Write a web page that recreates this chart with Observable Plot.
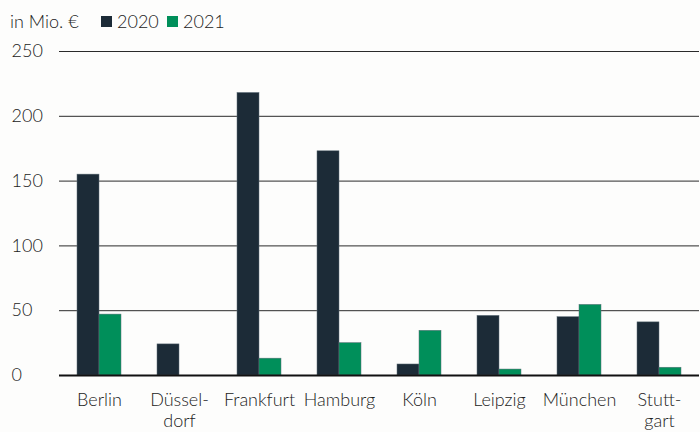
<!DOCTYPE html>
<html><head><meta charset="utf-8">
<script src="https://cdn.jsdelivr.net/npm/d3@7"></script>
<script src="https://cdn.jsdelivr.net/npm/@observablehq/plot@0.6"></script>
<style>
body{margin:0;background:#fdfdfc;font-family:Lato,sans-serif;font-weight:300;color:#222}
#legend{height:36px;position:relative;font-size:18px;line-height:1}
#legend span{position:absolute;top:12px}
#legend i{position:absolute;top:16px;width:11px;height:11px;display:block}
</style></head><body>
<div id="legend"></div><div id="chart"></div>
<script>
const cities = ["Berlin","Düsseldorf","Frankfurt","Hamburg","Köln","Leipzig","München","Stuttgart"];
const cityLabels = ["Berlin","Düssel-\ndorf","Frankfurt","Hamburg","Köln","Leipzig","München","Stutt-\ngart"];
const years = ["2020","2021"];
const values2020 = [155,24,218,173,8.5,46,45,41];
const values2021 = [47,null,13,25,34.5,4.6,54.5,6];
const colors = ["#1c2b37","#008f5a"];
const yTicks = [0,50,100,150,200,250];
const unitLabel = "in Mio. €";

const data = [];
cities.forEach((c,i)=>{
  data.push({city:c, year:years[0], value:values2020[i]});
  data.push({city:c, year:years[1], value:values2021[i]});
});

const leg = document.getElementById("legend");
leg.innerHTML = `<span style="left:10px">${unitLabel}</span>
<i style="left:101px;background:${colors[0]}"></i><span style="left:117px">${years[0]}</span>
<i style="left:167px;background:${colors[1]}"></i><span style="left:183px">${years[1]}</span>`;

const chart = Plot.plot({
  width:700, height:396, marginLeft:58, marginRight:0, marginTop:15, marginBottom:57,
  style:{fontFamily:"Lato, sans-serif", fontSize:"18px", fontWeight:300, color:"#222", background:"transparent", overflow:"visible"},
  fx:{domain:cities, padding:0, label:null, axis:null},
  x:{domain:years, paddingInner:0, paddingOuter:0.783, axis:null},
  y:{domain:[0,250], label:null, axis:null},
  color:{domain:years, range:colors},
  marks:[
    Plot.gridY(yTicks,{stroke:"#2a2a2a", strokeOpacity:1}),
    Plot.axisY(yTicks,{tickSize:0, tickPadding:0, textAnchor:"start", dx:-48, label:null, fontSize:18}),
    Plot.barY(data.filter(d=>d.value!=null),{fx:"city", x:"year", y:"value", fill:"year", stroke:"#5f6f78", strokeWidth:0.5}),
    Plot.ruleY([0],{stroke:"#111", strokeWidth:2}),
    Plot.axisFx({anchor:"bottom", tickSize:0, tickPadding:16, lineHeight:1.15, label:null, fontSize:18,
      tickFormat:d=>cityLabels[cities.indexOf(d)]})
  ]
});
document.getElementById("chart").appendChild(chart);
</script>
</body></html>
